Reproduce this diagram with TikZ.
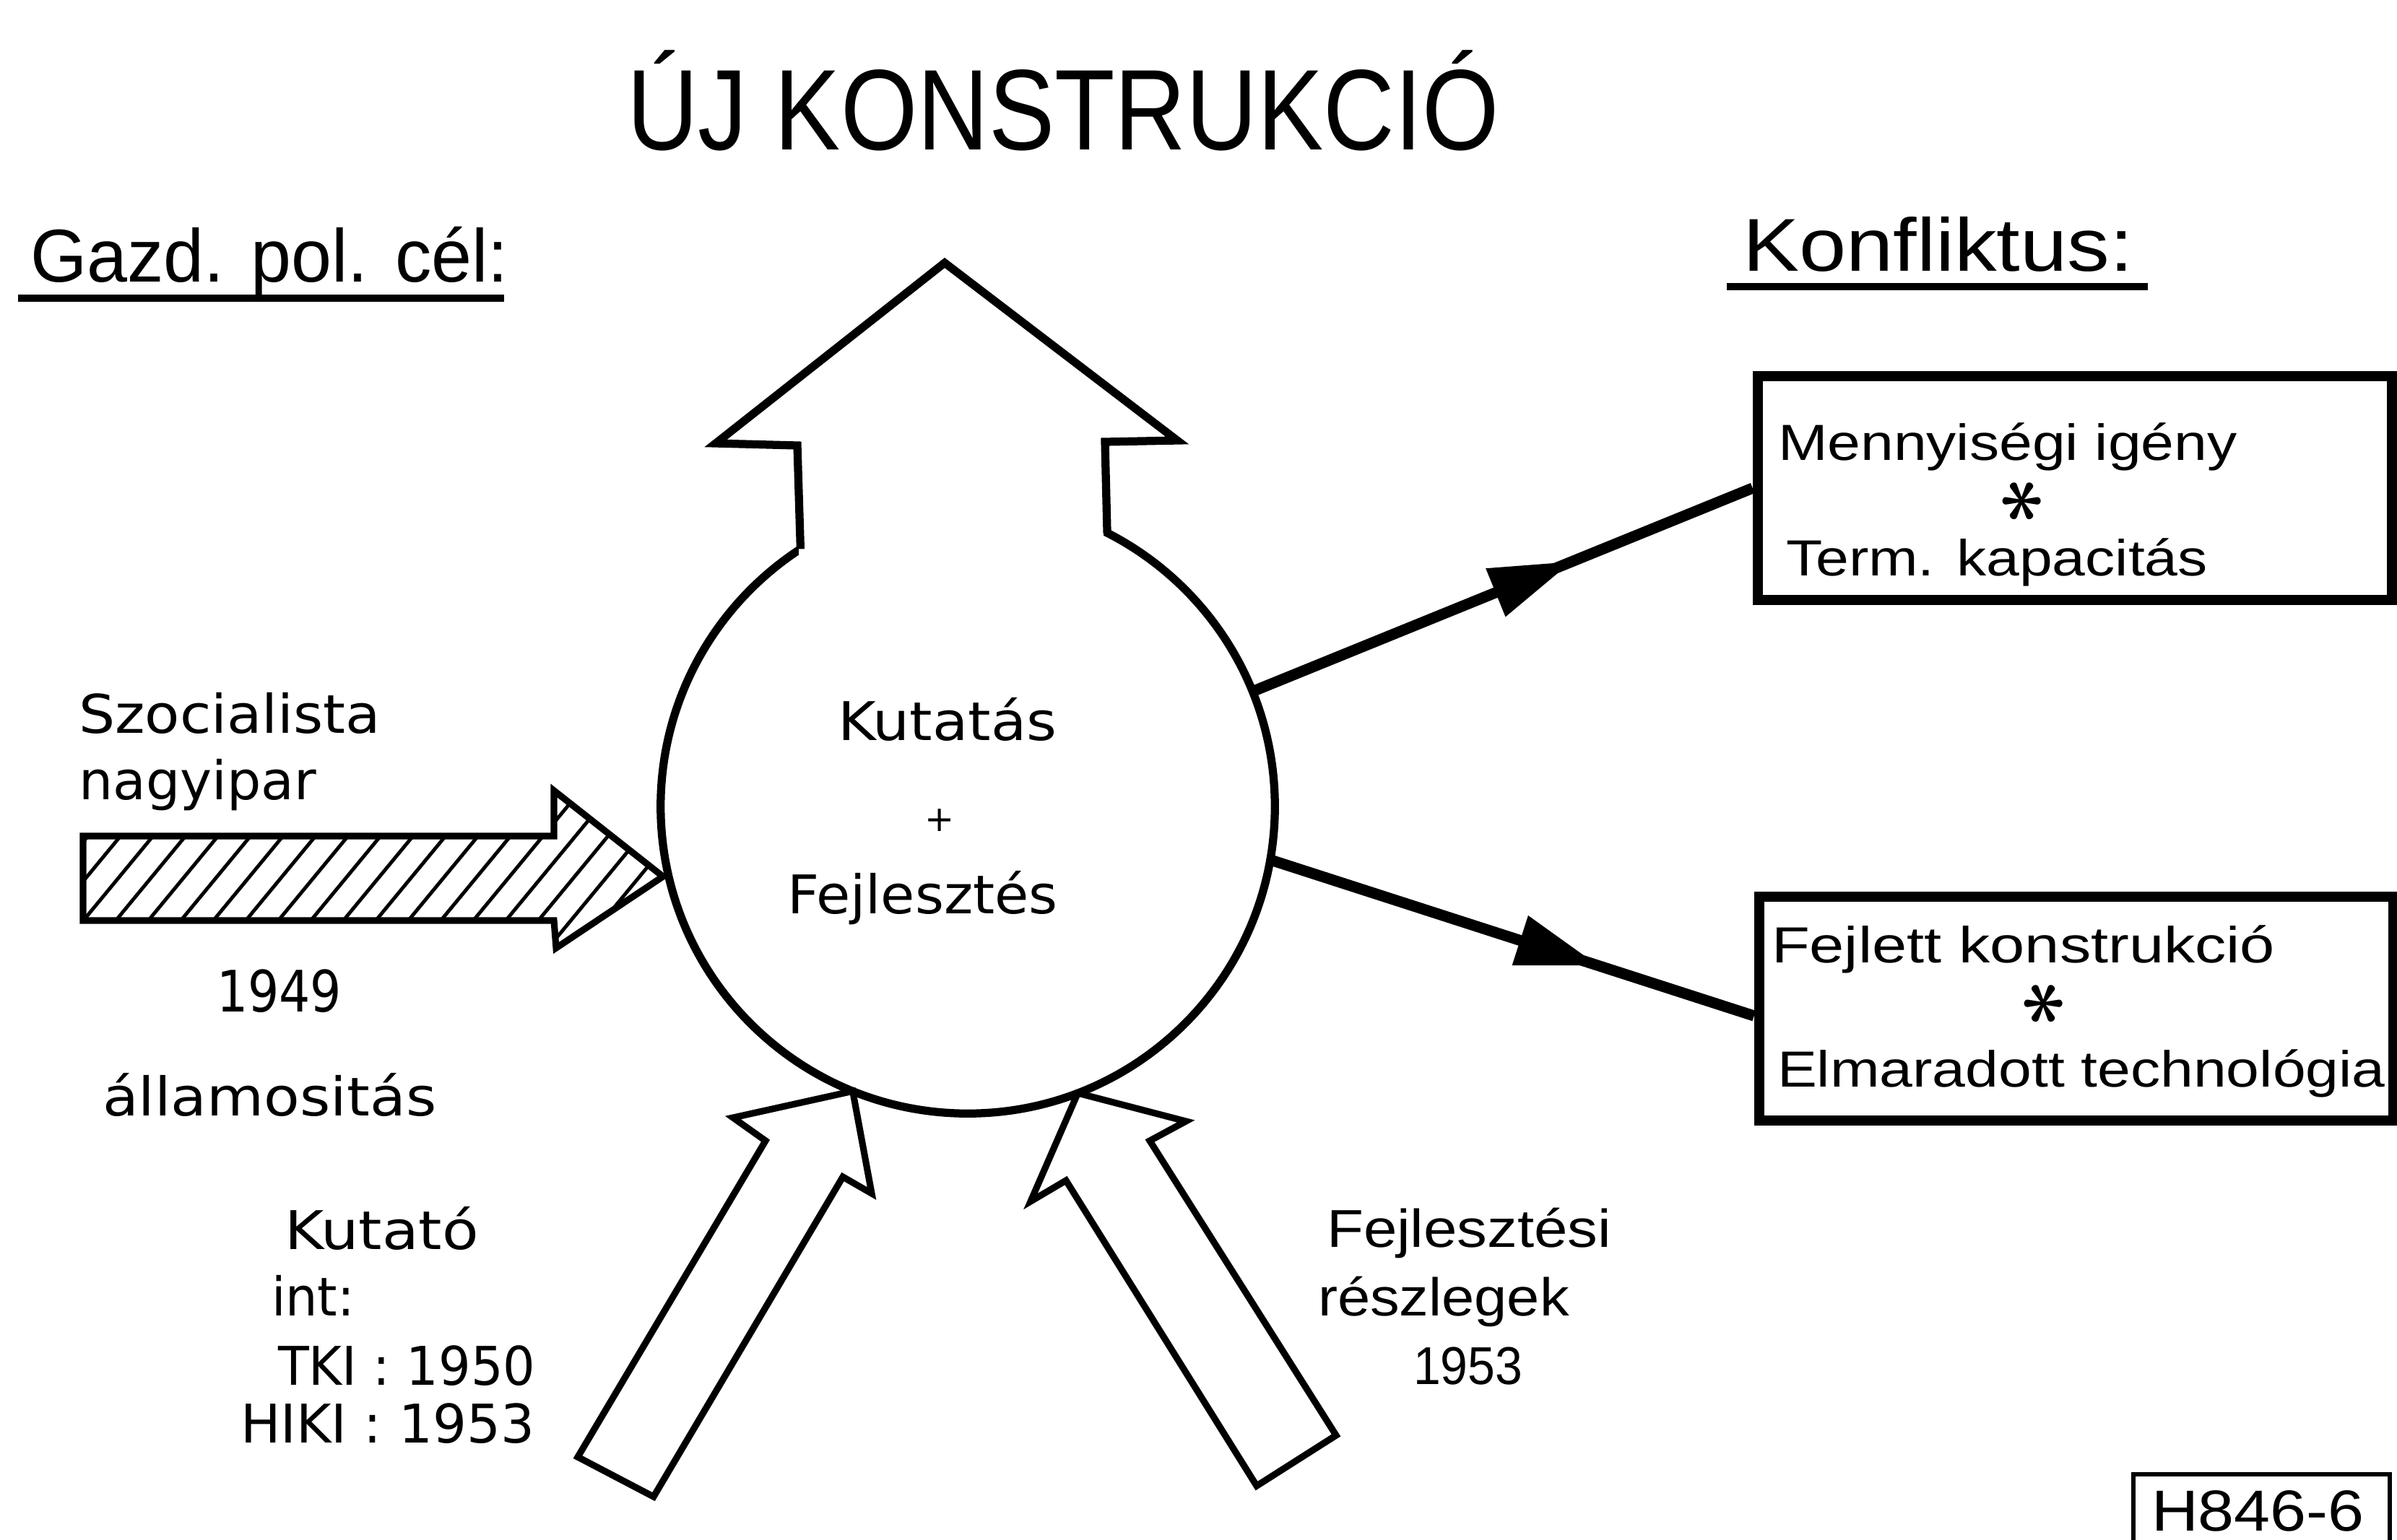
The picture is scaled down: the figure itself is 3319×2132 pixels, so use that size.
\documentclass[tikz,border=0pt]{standalone}
\usepackage{fontspec}
\usepackage{graphicx}
\setmainfont{Liberation Sans}
\newfontfamily\geofont{DejaVu Sans}
\usetikzlibrary{arrows.meta,decorations.markings,calc}
\newcommand\stretchx[2]{\scalebox{#1}[1]{#2}}

\begin{document}
\begin{tikzpicture}[x=0.01cm,y=-0.01cm,
  txt/.style={inner sep=0pt,outer sep=0pt,anchor=base west},
  titletxt/.style={txt,font=\fontsize{45.2}{50}\selectfont},
  headtxt/.style={txt,font=\fontsize{29.5}{32}\selectfont},
  boxtxt/.style={txt,font=\fontsize{20}{22}\selectfont},
  sidetxt/.style={txt,font=\fontsize{21}{24}\selectfont},
  geotxt/.style={txt,font=\geofont\fontsize{21}{24}\selectfont},
  astmark/.style={inner sep=0pt,outer sep=0pt,rotate=90},
  ruled/.style={line width=2.9pt},
  outline/.style={line width=3.2pt,line join=miter},
  hollow/.style={line width=2.6pt,line join=miter},
  framebox/.style={draw,line width=4pt,minimum width=8.78cm,minimum height=3.1cm,inner sep=0pt},
  conn/.style={line width=4.3pt,postaction={decorate}},
  ]
% page
\fill[white] (0,0) rectangle (3319,2132);
\useasboundingbox (0,0) rectangle (3319,2132);

% headings
\node[titletxt] (title) at (868,207) {\stretchx{0.86}{ÚJ KONSTRUKCIÓ}};
\node[headtxt] (goal) at (42,390) {\stretchx{0.97}{Gazd. pol. cél:}};
\node[headtxt] (conflict) at (2413,375) {\stretchx{1.13}{Konfliktus:}};
\draw[ruled] (25,413) -- (698,413);
\draw[ruled] (2391,397) -- (2974,397);

% central circle with the upward arrow on top
\node[circle,draw,line width=3.2pt,minimum size=8.5cm,inner sep=0pt,outer sep=0pt] (core) at (1340,1117) {};
\fill[white] (1106,620) rectangle (1528,820);
\draw[outline] (core.123.8) -- (1104,617) -- (991,614) -- (1308,364)
  -- (1630,610) -- (1530,612) -- (core.63.4);

\node[geotxt] (research) at (1160,1025) {\stretchx{1.09}{Kutatás}};
\node[inner sep=0pt,font=\geofont\fontsize{14}{14}\selectfont] (plus) at (1301,1136) {+};
\node[geotxt] (develop) at (1090,1265) {\stretchx{1.04}{Fejlesztés}};

% hatched input arrow
\coordinate (hs1) at (115,1158);
\coordinate (hs2) at (767,1158);
\coordinate (hs3) at (767,1095);
\coordinate (hs4) at (918,1214);
\coordinate (hs5) at (770,1313);
\coordinate (hs6) at (767,1275);
\coordinate (hs7) at (115,1275);
\begin{scope}
  \clip (hs1) -- (hs2) -- (hs3) -- (hs4) -- (hs5) -- (hs6) -- (hs7) -- cycle;
  \foreach \k in {-6,...,22}
    \draw[line width=1.4pt] ({115+45*\k},1330) -- ({317+45*\k},1085);
\end{scope}
\draw[hollow] (hs1) -- (hs2) -- (hs3) -- (hs4) -- (hs5) -- (hs6) -- (hs7) -- cycle;

\node[geotxt] (socialist) at (109,1015) {\stretchx{1.07}{Szocialista}};
\node[geotxt] (industry) at (109,1107) {\stretchx{1.01}{nagyipar}};
\node[txt,font=\geofont\fontsize{22.5}{24}\selectfont] (year49) at (300,1401) {\stretchx{0.86}{1949}};
\node[geotxt] (nation) at (142,1545) {\stretchx{1.1}{államositás}};

% hollow arrows from below
\draw[hollow] (core.-112.6) -- (1015,1548) -- (1060,1580) -- (800,2018)
  -- (905,2073) -- (1167,1630) -- (1207,1653) -- cycle;
\draw[hollow] (core.-69.2) -- (1427,1664) -- (1476,1635) -- (1740,2058)
  -- (1850,1988) -- (1592,1580) -- (1642,1553) -- cycle;

\node[geotxt] (inst1) at (394,1730) {\stretchx{1.12}{Kutató}};
\node[geotxt] (inst2) at (376,1822) {\stretchx{0.95}{int:}};
\node[geotxt] (tki) at (385,1918) {\stretchx{0.95}{TKI : 1950}};
\node[geotxt] (hiki) at (333,1998) {\stretchx{1.0}{HIKI : 1953}};

\node[sidetxt] (dept1) at (1837,1727) {\stretchx{1.13}{Fejlesztési}};
\node[sidetxt] (dept2) at (1825,1822) {\stretchx{1.1}{részlegek}};
\node[sidetxt] (dept3) at (1957,1917) {\stretchx{0.92}{1953}};

% conflict boxes
\node[framebox] (box1) at (2873,676) {};
\node[framebox] (box2) at (2875,1397) {};

\node[boxtxt] (q1) at (2462,637) {\stretchx{1.17}{Mennyiségi igény}};
\node[astmark] (s1) at (2801,694) {\scalebox{3.4}{\boldmath$\ast$}};
\node[boxtxt] (q2) at (2473,797) {\stretchx{1.17}{Term. kapacitás}};

\node[boxtxt] (t1) at (2453,1333) {\stretchx{1.23}{Fejlett konstrukció}};
\node[astmark] (s2) at (2831,1390) {\scalebox{3.4}{\boldmath$\ast$}};
\node[boxtxt] (t2) at (2461,1505) {\stretchx{1.17}{Elmaradott technológia}};

% connectors
\draw[conn,decoration={markings,mark=at position 0.64 with {\arrow{Triangle[length=1.15cm,width=0.68cm]}}}]
  (core.22.5) -- (box1.west);
\draw[conn,decoration={markings,mark=at position 0.68 with {\arrow{Triangle[length=1.15cm,width=0.68cm]}}}]
  (core.-10) -- ([yshift=-0.1cm]box2.west);

% sheet code
\node[draw,line width=1.7pt,minimum width=3.55cm,minimum height=1.2cm,inner sep=0pt] (codebox) at (3131.5,2102) {};
\node[txt,font=\fontsize{22.8}{25}\selectfont] (code) at (2979,2120) {\stretchx{1.12}{H846-6}};
\end{tikzpicture}
\end{document}
